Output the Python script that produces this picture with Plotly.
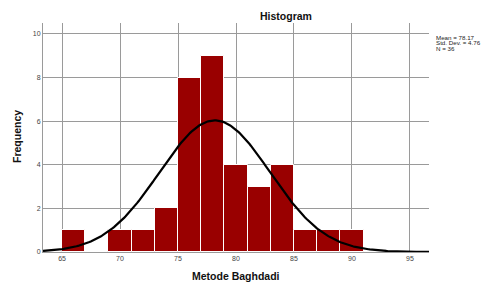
import numpy as np
import plotly.graph_objects as go

# Data
bin_centers = [66, 68, 70, 72, 74, 76, 78, 80, 82, 84, 86, 88, 90]
frequencies = [1, 0, 1, 1, 2, 8, 9, 4, 3, 4, 1, 1, 1]
bin_width = 2
mean_val = 78.17
std_dev = 4.76
n_obs = 36
x_ticks = [65, 70, 75, 80, 85, 90, 95]
y_ticks = [0, 2, 4, 6, 8, 10]

W, H = 483, 282
L, R, T, B = 43, 429, 23, 252

def px_x(p):
    return (p - L) / (R - L)

def px_y(p):
    return (B - p) / (B - T)

fig = go.Figure()
fig.add_trace(go.Bar(
    x=bin_centers, y=frequencies, width=bin_width,
    marker=dict(color="#990000", line=dict(color="white", width=1)),
    hoverinfo="x+y",
))

x_lo, x_hi = 63.36, 96.64
xs = np.linspace(x_lo, x_hi, 300)
ys = n_obs * bin_width / (std_dev * np.sqrt(2 * np.pi)) * np.exp(-0.5 * ((xs - mean_val) / std_dev) ** 2)
fig.add_trace(go.Scatter(x=xs, y=ys, mode="lines",
                         line=dict(color="black", width=2.2), hoverinfo="skip"))

font_family = "Liberation Sans, Arial, sans-serif"
fig.update_layout(
    width=W, height=H,
    margin=dict(l=L, r=W - R, t=T, b=H - B, autoexpand=False),
    paper_bgcolor="white", plot_bgcolor="white",
    showlegend=False, bargap=0,
    font=dict(family=font_family, size=7, color="#333333"),
    xaxis=dict(range=[x_lo, x_hi], tickvals=x_ticks, ticktext=[str(v) for v in x_ticks],
               showgrid=True, gridcolor="#9a9a9a", gridwidth=1,
               showline=True, linecolor="#9a9a9a", linewidth=1,
               zeroline=False, ticks="", tickfont=dict(size=7, color="#444444")),
    yaxis=dict(range=[0, 10.5], tickvals=y_ticks, ticktext=[str(v) for v in y_ticks],
               showgrid=True, gridcolor="#9a9a9a", gridwidth=1,
               showline=True, linecolor="#9a9a9a", linewidth=1,
               zeroline=False, ticks="", tickfont=dict(size=7, color="#444444")),
)

anns = [
    dict(text="<b>Histogram</b>", x=px_x(286), y=px_y(16), size=10.5, xanchor="center", color="#111111"),
    dict(text="<b>Metode Baghdadi</b>", x=px_x(236), y=px_y(276), size=10.5, xanchor="center", color="#111111"),
    dict(text="Mean = 78.17", x=px_x(434), y=px_y(37.0), size=6.2, xanchor="left", color="#222222"),
    dict(text="Std. Dev. = 4.76", x=px_x(434), y=px_y(42.9), size=6.2, xanchor="left", color="#222222"),
    dict(text="N = 36", x=px_x(434), y=px_y(48.8), size=6.2, xanchor="left", color="#222222"),
]
for a in anns:
    fig.add_annotation(text=a["text"], xref="paper", yref="paper", x=a["x"], y=a["y"],
                       xanchor=a["xanchor"], yanchor="middle", showarrow=False,
                       font=dict(family=font_family, size=a["size"], color=a["color"]))

fig.add_annotation(text="<b>Frequency</b>", xref="paper", yref="paper",
                   x=px_x(17), y=px_y(137), xanchor="center", yanchor="middle",
                   textangle=-90, showarrow=False,
                   font=dict(family=font_family, size=10.5, color="#111111"))

fig.write_html("out.html", config={"displayModeBar": False},
               post_script="document.body.style.margin='0';document.body.style.padding='0';document.body.style.overflow='hidden';")
